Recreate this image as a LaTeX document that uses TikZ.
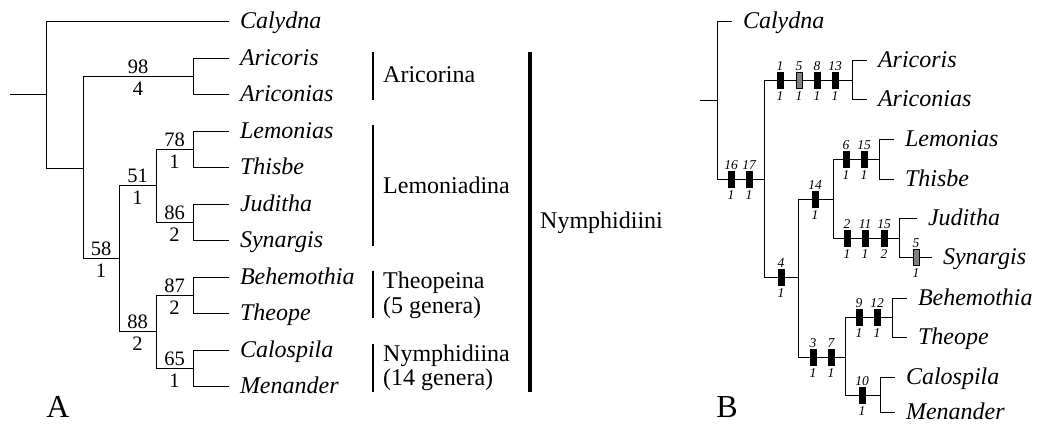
\documentclass[tikz,border=0pt]{standalone}
\usepackage{fontspec}
\setmainfont{Liberation Serif}
\newcommand\nmsize{\fontsize{24}{28}\selectfont}
% character change on a branch: name, x, y, number above, number below, style
\newcommand\chg[6]{%
  \node[#6] (#1) at (#2,#3) {};
  \node[clab] (#1a) at (#2,#3-9.5) {#4};
  \node[clab] (#1b) at (#2,#3+20) {#5};
}
\begin{document}
\begin{tikzpicture}[x=1pt,y=-1pt,
  br/.style={line width=0.9pt,black},
  leaf/.style={anchor=west,inner xsep=11pt,inner ysep=0pt,outer sep=0pt,
    text height=14pt,text depth=0pt,font=\nmsize\itshape},
  grp/.style={anchor=base west,inner sep=0pt,font=\nmsize},
  bsup/.style={anchor=base,inner sep=0pt,yshift=2.5pt,font=\fontsize{20.5}{24}\selectfont},
  bsub/.style={anchor=base,inner sep=0pt,yshift=-19.5pt,font=\fontsize{20.5}{24}\selectfont},
  clab/.style={anchor=base,inner sep=0pt,font=\fontsize{13.5}{15}\selectfont\itshape},
  mk/.style={rectangle,draw=black,fill=black,line width=0.5pt,
    minimum width=6pt,minimum height=16pt,inner sep=0pt},
  mkg/.style={mk,fill=gray},
  bar/.style={line width=2.6pt},
  panel/.style={anchor=base,inner sep=0pt,font=\fontsize{32}{36}\selectfont}]
\useasboundingbox (0,0) rectangle (1038,424);

% ---------------- Panel A: bootstrap / Bremer support ----------------
\coordinate (Lst) at (10,94);
\coordinate (L0)  at (46,94);
\coordinate (L1)  at (83,168);
\coordinate (Lari) at (193,76);
\coordinate (L58) at (119,258);
\coordinate (L51) at (156,185);
\coordinate (L78) at (193,149);
\coordinate (L86) at (193,222);
\coordinate (L88) at (156,331);
\coordinate (L87) at (193,295);
\coordinate (L65) at (193,368);

\node[leaf] (aCal) at (229,21)  {Calydna};
\node[leaf] (aArc) at (229,58)  {Aricoris};
\node[leaf] (aArn) at (229,94)  {Ariconias};
\node[leaf] (aLem) at (229,131) {Lemonias};
\node[leaf] (aThi) at (229,167) {Thisbe};
\node[leaf] (aJud) at (229,204) {Juditha};
\node[leaf] (aSyn) at (229,240) {Synargis};
\node[leaf] (aBeh) at (229,277) {Behemothia};
\node[leaf] (aThe) at (229,313) {Theope};
\node[leaf] (aCa)  at (229,350) {Calospila};
\node[leaf] (aMen) at (229,386) {Menander};

\draw[br] (Lst) -- (L0);
\draw[br] (L0) |- (aCal.west);
\draw[br] (L0) |- (L1);
\draw[br] (L1) |- (Lari) node[pos=.75,bsup] (s98) {98} node[pos=.75,bsub] (b98) {4};
\draw[br] (L1) |- (L58) node[pos=.75,bsup] (s58) {58} node[pos=.75,bsub] (b58) {1};
\draw[br] (Lari) |- (aArc.west);
\draw[br] (Lari) |- (aArn.west);
\draw[br] (L58) |- (L51) node[pos=.75,bsup] (s51) {51} node[pos=.75,bsub] (b51) {1};
\draw[br] (L58) |- (L88) node[pos=.75,bsup] (s88) {88} node[pos=.75,bsub] (b88) {2};
\draw[br] (L51) |- (L78) node[pos=.75,bsup] (s78) {78} node[pos=.75,bsub] (b78) {1};
\draw[br] (L51) |- (L86) node[pos=.75,bsup] (s86) {86} node[pos=.75,bsub] (b86) {2};
\draw[br] (L88) |- (L87) node[pos=.75,bsup] (s87) {87} node[pos=.75,bsub] (b87) {2};
\draw[br] (L88) |- (L65) node[pos=.75,bsup] (s65) {65} node[pos=.75,bsub] (b65) {1};
\draw[br] (L78) |- (aLem.west);
\draw[br] (L78) |- (aThi.west);
\draw[br] (L86) |- (aJud.west);
\draw[br] (L86) |- (aSyn.west);
\draw[br] (L87) |- (aBeh.west);
\draw[br] (L87) |- (aThe.west);
\draw[br] (L65) |- (aCa.west);
\draw[br] (L65) |- (aMen.west);

% subtribe and tribe brackets
\coordinate (gAr1) at (373,52);  \coordinate (gAr2) at (373,100);
\coordinate (gLe1) at (373,125); \coordinate (gLe2) at (373,246);
\coordinate (gTh1) at (373,271); \coordinate (gTh2) at (373,318);
\coordinate (gNy1) at (373,344); \coordinate (gNy2) at (373,392);
\coordinate (gTr1) at (530,52);  \coordinate (gTr2) at (530,392);
\draw[bar] (gAr1) -- (gAr2);
\draw[bar] (gLe1) -- (gLe2);
\draw[bar] (gTh1) -- (gTh2);
\draw[bar] (gNy1) -- (gNy2);
\draw[bar,line width=3.4pt] (gTr1) -- (gTr2);
\node[grp] (tAr)  at (383,82)  {Aricorina};
\node[grp] (tLe)  at (383,193) {Lemoniadina};
\node[grp] (tTh)  at (383,288) {Theopeina};
\node[grp] (tTh2) at (383,313) {(5 genera)};
\node[grp] (tNy)  at (383,361) {Nymphidiina};
\node[grp] (tNy2) at (383,385) {(14 genera)};
\node[grp] (tTr)  at (540,228) {Nymphidiini};

\node[panel] (pA) at (58,417) {A};

% ---------------- Panel B: character changes ----------------
\coordinate (Rst)  at (700,100);
\coordinate (R0)   at (717,100);
\coordinate (R1)   at (764,179);
\coordinate (Rari) at (852,80);
\coordinate (R4)   at (798,277);
\coordinate (R14)  at (833,199);
\coordinate (R615) at (879,159);
\coordinate (Rjs)  at (899,238);
\coordinate (R37)  at (845,357);
\coordinate (R912) at (892,317);
\coordinate (R10)  at (880,395);

\node[leaf] (bCal) at (732,21)  {Calydna};
\node[leaf] (bArc) at (867,60)  {Aricoris};
\node[leaf] (bArn) at (867,99)  {Ariconias};
\node[leaf] (bLem) at (894,139) {Lemonias};
\node[leaf] (bThi) at (894,179) {Thisbe};
\node[leaf] (bJud) at (917,218) {Juditha};
\node[leaf] (bSyn) at (932,257) {Synargis};
\node[leaf] (bBeh) at (907,298) {Behemothia};
\node[leaf] (bThe) at (907,337) {Theope};
\node[leaf] (bCa)  at (895,377) {Calospila};
\node[leaf] (bMen) at (895,412) {Menander};

\draw[br] (Rst) -- (R0);
\draw[br] (R0) |- (bCal.west);
\draw[br] (R0) |- (R1);
\draw[br] (R1) |- (Rari);
\draw[br] (R1) |- (R4);
\draw[br] (Rari) |- (bArc.west);
\draw[br] (Rari) |- (bArn.west);
\draw[br] (R4) |- (R14);
\draw[br] (R4) |- (R37);
\draw[br] (R14) |- (R615);
\draw[br] (R14) |- (Rjs);
\draw[br] (R615) |- (bLem.west);
\draw[br] (R615) |- (bThi.west);
\draw[br] (Rjs) |- (bJud.west);
\draw[br] (Rjs) |- (bSyn.west);
\draw[br] (R37) |- (R912);
\draw[br] (R37) |- (R10);
\draw[br] (R912) |- (bBeh.west);
\draw[br] (R912) |- (bThe.west);
\draw[br] (R10) |- (bCa.west);
\draw[br] (R10) |- (bMen.west);

\chg{k16}{731}{179}{16}{1}{mk}
\chg{k17}{749}{179}{17}{1}{mk}
\chg{k1}{780}{80}{1}{1}{mk}
\chg{k5}{799}{80}{5}{1}{mkg}
\chg{k8}{817}{80}{8}{1}{mk}
\chg{k13}{835}{80}{13}{1}{mk}
\chg{k4}{781}{277}{4}{1}{mk}
\chg{k14}{815}{199}{14}{1}{mk}
\chg{k6}{846}{159}{6}{1}{mk}
\chg{k15a}{864}{159}{15}{1}{mk}
\chg{k2}{847}{238}{2}{1}{mk}
\chg{k11}{865}{238}{11}{1}{mk}
\chg{k15b}{884}{238}{15}{2}{mk}
\chg{k5s}{916}{257}{5}{1}{mkg}
\chg{k3}{813}{357}{3}{1}{mk}
\chg{k7}{831}{357}{7}{1}{mk}
\chg{k9}{859}{317}{9}{1}{mk}
\chg{k12}{877}{317}{12}{1}{mk}
\chg{k10}{862}{395}{10}{1}{mk}

\node[panel] (pB) at (727,417) {B};
\end{tikzpicture}
\end{document}
